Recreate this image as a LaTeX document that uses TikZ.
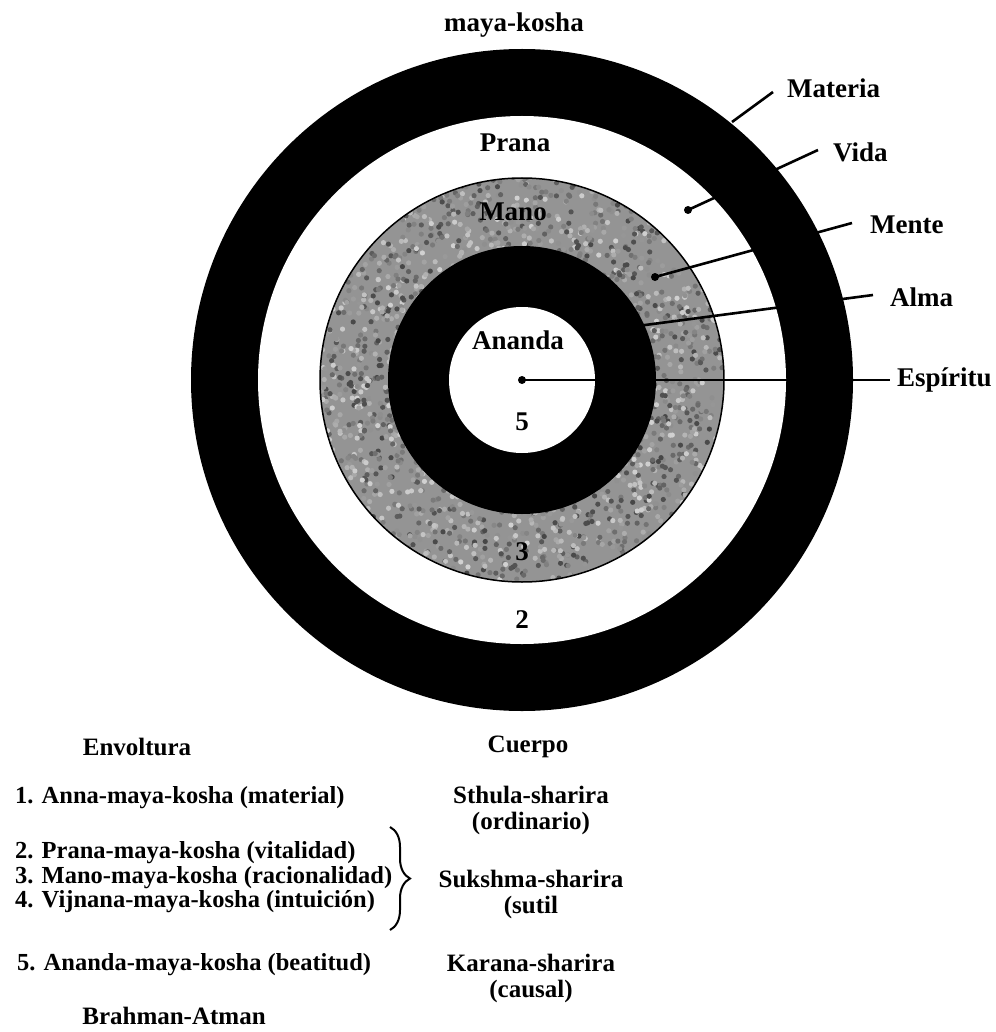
\documentclass[tikz,border=0pt]{standalone}
\usepackage{fontspec}
\setmainfont{Liberation Serif}
\usetikzlibrary{decorations.pathreplacing}
\tikzset{
  lbl/.style={font=\bfseries\fontsize{27}{32}\selectfont, inner sep=0pt},
  item/.style={font=\bfseries\fontsize{24.5}{29}\selectfont, inner sep=0pt, anchor=west},
  body/.style={font=\bfseries\fontsize{25}{30}\selectfont, inner sep=0pt, align=center},
  lead/.style={line width=2.6pt},
  dotp/.style={circle, fill=black, inner sep=0pt, minimum size=8pt},
}
\begin{document}
\begin{tikzpicture}[x=1pt,y=-1pt]
\useasboundingbox (0,0) rectangle (995,1032);
% rings
\coordinate (c) at (522,380);
\fill[black] (c) circle (331);
\fill[white] (c) circle (264);
\fill[black!42] (c) circle (202);
\begin{scope}
  \clip (c) circle (202);
  \pgfmathsetseed{3}
  \foreach \i in {1,...,1400}{
    \pgfmathsetmacro\ang{rnd*360}
    \pgfmathsetmacro\rad{130+rnd*74}
    \pgfmathtruncatemacro\gv{rnd*55+18}
    \fill[black!\gv] ([shift={(\ang:\rad)}]c) circle (2.6);
  }
\end{scope}
\draw[black, line width=1.5pt] (c) circle (202);
\fill[black] (c) circle (134);
\fill[white] (c) circle (73);
% ring labels
\node[lbl] (top) at (514,25) {maya-kosha};
\node[lbl] (prana) at (515,143) {Prana};
\node[lbl] (mano) at (513,212) {Mano};
\node[lbl] (ananda) at (518,340) {Ananda};
\node[lbl] (n5) at (522,422) {5};
\node[lbl] (n3) at (522,552) {3};
\node[lbl] (n2) at (522,620) {2};
% leader labels
\node[lbl, anchor=west] (materia) at (787,88) {Materia};
\node[lbl, anchor=west] (vida) at (833,152) {Vida};
\node[lbl, anchor=west] (mente) at (870,225) {Mente};
\node[lbl, anchor=west] (alma) at (890,297) {Alma};
\node[lbl, anchor=west] (espiritu) at (897,380) {Espíritu};
% leader start points
\coordinate (pmat) at (732,122);
\coordinate (emat) at (773,92);
\node[dotp] (pvida) at (688,210) {};
\coordinate (evida) at (818,150);
\node[dotp] (pmente) at (655,277) {};
\coordinate (emente) at (852,223);
\coordinate (palma) at (630,327);
\coordinate (ealma) at (873,295);
\node[dotp] (pesp) at (522,380) {};
\coordinate (eesp) at (890,380);
\draw[lead] (pmat) -- (emat);
\draw[lead] (pvida.center) -- (evida);
\draw[lead] (pmente.center) -- (emente);
\draw[lead] (palma) -- (ealma);
\draw[lead] (pesp.center) -- (eesp);
% table
\node[body] (envoltura) at (137,747) {Envoltura};
\node[body] (cuerpo) at (528,747) {Cuerpo};
\node[item] (i1) at (15,798) {1. Anna-maya-kosha (material)};
\node[item] (i2) at (15,853) {2. Prana-maya-kosha (vitalidad)};
\node[item] (i3) at (15,878) {3. Mano-maya-kosha (racionalidad)};
\node[item] (i4) at (15,902) {4. Vijnana-maya-kosha (intuición)};
\node[item] (i5) at (17,965) {5. Ananda-maya-kosha (beatitud)};
\node[body] (brahman) at (174,1016) {Brahman-Atman};
\node[body] (sthula) at (531,810) {Sthula-sharira\\[-4pt](ordinario)};
\node[body] (sukshma) at (531,894) {Sukshma-sharira\\[-4pt](sutil};
\node[body] (karana) at (531,978) {Karana-sharira\\[-4pt](causal)};
\coordinate (bt) at (390,827);
\coordinate (bb) at (390,930);
\draw[line width=2pt, decorate, decoration={brace, amplitude=20pt}] (bt) -- (bb);
\end{tikzpicture}
\end{document}
